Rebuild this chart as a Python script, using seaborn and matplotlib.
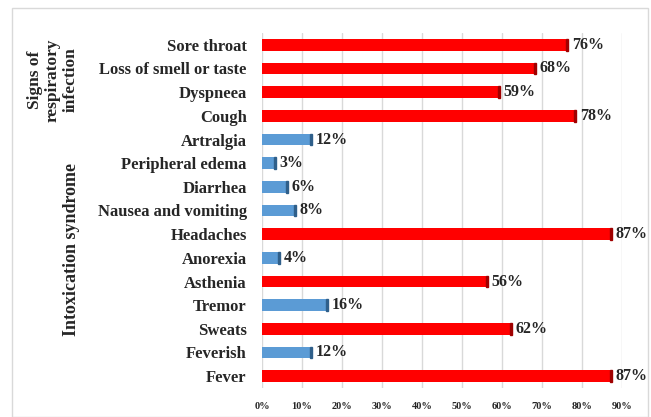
import matplotlib
matplotlib.use("Agg")
import matplotlib.pyplot as plt
import seaborn as sns
import pandas as pd
from matplotlib.patches import Rectangle

categories = ["Sore throat", "Loss of smell or taste", "Dyspneea", "Cough",
              "Artralgia", "Peripheral edema", "Diarrhea", "Nausea and vomiting",
              "Headaches", "Anorexia", "Asthenia", "Tremor", "Sweats",
              "Feverish", "Fever"]
values = [76, 68, 59, 78, 12, 3, 6, 8, 87, 4, 56, 16, 62, 12, 87]
groups = ["high", "high", "high", "high", "low", "low", "low", "low",
          "high", "low", "high", "low", "high", "low", "high"]
xticks = [0, 10, 20, 30, 40, 50, 60, 70, 80, 90]

df = pd.DataFrame({"cat": categories, "val": values, "grp": groups})

sns.set_style("white")
plt.rcParams['font.family'] = ['Liberation Serif', 'DejaVu Serif']

fig = plt.figure(figsize=(6.51, 4.17), dpi=100)
ax = fig.add_axes([262/651, 1-388/417, (622-262)/651, (388-33)/417])

palette = {"high": "#FF0000", "low": "#5B9BD5"}
edges = {"high": "#A00000", "low": "#2F5F8A"}
sns.barplot(data=df, y="cat", x="val", hue="grp", palette=palette,
            dodge=False, width=0.5, ax=ax, legend=False, order=categories,
            linewidth=0, zorder=3, saturation=1)

ax.set_xlim(0, 90)
ax.set_ylim(14.5, -0.5)
ax.set_xticks(xticks)
ax.set_xticklabels([f"{t}%" for t in xticks], fontsize=7.5, fontweight="bold")
ax.tick_params(axis="x", length=0, pad=10)
ax.tick_params(axis="y", length=0, pad=11)
for lab in ax.get_yticklabels():
    lab.set_fontsize(12)
    lab.set_fontweight("bold")
ax.set_xlabel("")
ax.set_ylabel("")
for s in ax.spines.values():
    s.set_visible(False)
ax.grid(axis="x", color="#D9D9D9", linewidth=1, zorder=0)

# 3D-like end faces and value labels
for i, (v, g) in enumerate(zip(values, groups)):
    ax.add_patch(Rectangle((v, i - 0.25), 0.6, 0.5, color=edges[g], zorder=4))
    ax.annotate(f"{v}%", xy=(v + 0.6, i), xytext=(2.5, 0),
                textcoords="offset points", va="center", ha="left",
                fontsize=11.5, fontweight="bold", annotation_clip=False)

fig.text(53/651, 1-80/417, "Signs of\nrespiratory\ninfection", rotation=90,
         ha="center", va="center", fontsize=12.5, fontweight="bold",
         linespacing=1.15)
fig.text(72/651, 1-250/417, "Intoxication syndrome", rotation=90,
         ha="center", va="center", fontsize=13, fontweight="bold")

fig.add_artist(Rectangle((12/651, 0.0), (648-12)/651, 1-8/417,
                         transform=fig.transFigure, fill=False,
                         edgecolor="#D9D9D9", linewidth=1))

fig.savefig("out.png", dpi=100)
